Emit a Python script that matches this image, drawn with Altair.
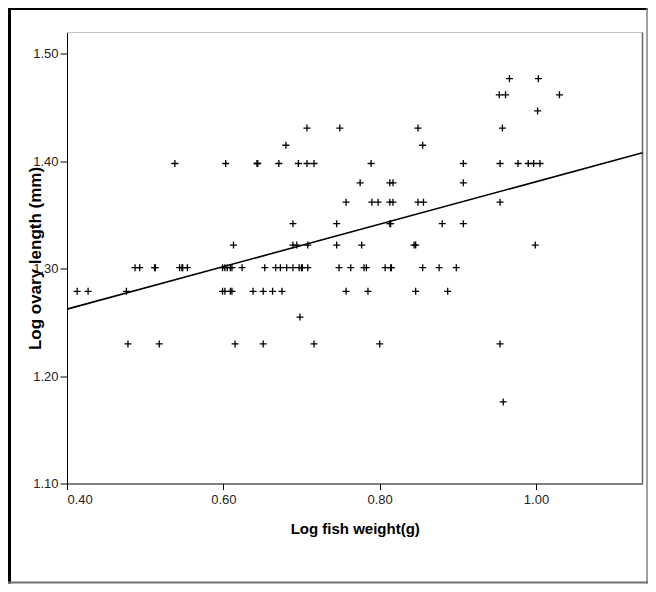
import altair as alt
import pandas as pd

# Log fish weight (g) and Log ovary length (mm)
fish_weight = [
    0.966, 1.003,
    0.953, 0.961, 1.030,
    1.002,
    0.707, 0.749, 0.849, 0.957,
    0.680, 0.855,
    0.538, 0.603, 0.643, 0.644, 0.671, 0.696, 0.707, 0.716, 0.789, 0.907, 0.954, 0.977, 0.990, 0.997, 1.005,
    0.775, 0.813, 0.817, 0.907,
    0.757, 0.790, 0.798, 0.813, 0.817, 0.849, 0.856, 0.954,
    0.689, 0.745, 0.813, 0.814, 0.880, 0.907,
    0.613, 0.689, 0.694, 0.708, 0.745, 0.777, 0.844, 0.846, 0.999,
    0.487, 0.493, 0.512, 0.513, 0.544, 0.547, 0.548, 0.554, 0.599, 0.602, 0.605, 0.609, 0.611, 0.624,
    0.653, 0.667, 0.673, 0.681, 0.689, 0.697, 0.700, 0.701, 0.708, 0.748, 0.763, 0.780, 0.783, 0.807,
    0.814, 0.815, 0.855, 0.876, 0.898,
    0.413, 0.427, 0.476, 0.599, 0.602, 0.609, 0.611, 0.638, 0.651, 0.663, 0.675, 0.757, 0.785, 0.846, 0.887,
    0.698,
    0.478, 0.518, 0.615, 0.651, 0.716, 0.800, 0.954,
    0.958,
]
ovary_length = (
    [1.477] * 2 + [1.462] * 3 + [1.447] * 1 + [1.431] * 4 + [1.415] * 2
    + [1.398] * 15 + [1.380] * 4 + [1.362] * 8 + [1.342] * 6 + [1.322] * 9
    + [1.301] * 33 + [1.279] * 15 + [1.255] * 1 + [1.230] * 7 + [1.176] * 1
)

# fitted line end points
fit_x = [0.40, 1.1362]
fit_y = [1.2624, 1.408]

x_ticks = [0.40, 0.60, 0.80, 1.00]
y_ticks = [1.10, 1.20, 1.30, 1.40, 1.50]

W, H = 575.5, 451
LABEL_FONT = "Liberation Sans Narrow, Arial Narrow, Liberation Sans, Arial"
TITLE_FONT = "Liberation Sans, Arial"

pts = pd.DataFrame({"w": fish_weight, "l": ovary_length})
fit = pd.DataFrame({"w": fit_x, "l": fit_y})
one = pd.DataFrame({"a": [0]})

xscale = alt.Scale(domain=[0.40, 1.1362], nice=False, zero=False)
yscale = alt.Scale(domain=[1.10, 1.52], nice=False, zero=False)

xaxis = alt.Axis(
    values=x_ticks, format=".2f", title="Log fish weight(g)", grid=False,
    domainColor="black", tickColor="black", tickSize=6, labelPadding=4,
    labelFont=LABEL_FONT, labelFontSize=13, labelColor="#222222",
    titleFont=TITLE_FONT, titleFontSize=15, titleFontWeight="bold", titleColor="black",
    titleX=W / 2, titleY=49.5, titleBaseline="alphabetic",
)
yaxis = alt.Axis(
    values=y_ticks, format=".2f", title="Log ovary length (mm)", grid=False,
    domainColor="black", tickColor="black", tickSize=7, labelPadding=2,
    labelFont=LABEL_FONT, labelFontSize=13, labelColor="#222222",
    titleFont=TITLE_FONT, titleFontSize=17, titleFontWeight="bold", titleColor="black",
    titleX=-32, titleY=H / 2, titleBaseline="middle", titleAnchor="middle",
)

points = alt.Chart(pts).mark_point(
    shape="M-1,0H1M0,-1V1", size=49, filled=False, stroke="black", strokeWidth=1.3, opacity=1
).encode(
    x=alt.X("w:Q", scale=xscale, axis=xaxis),
    y=alt.Y("l:Q", scale=yscale, axis=yaxis),
)

line = alt.Chart(fit).mark_line(color="black", strokeWidth=1.6).encode(
    x=alt.X("w:Q", scale=xscale),
    y=alt.Y("l:Q", scale=yscale),
)

# plot box top and right edges
top_edge = alt.Chart(one).mark_rule(color="#c4c4c4", strokeWidth=1.2).encode(
    x=alt.value(0), x2=alt.value(W), y=alt.value(0)
)
right_edge = alt.Chart(one).mark_rule(color="#6a6a6a", strokeWidth=1.6).encode(
    x=alt.value(W), y=alt.value(0), y2=alt.value(H)
)

# outer frame
frame_left = alt.Chart(one).mark_rule(color="black", strokeWidth=3).encode(
    x=alt.value(-57.5), y=alt.value(-24.5), y2=alt.value(551)
)
frame_top = alt.Chart(one).mark_rule(color="black", strokeWidth=2).encode(
    x=alt.value(-59), x2=alt.value(581), y=alt.value(-23.5)
)
frame_right = alt.Chart(one).mark_rule(color="#808080", strokeWidth=1.5).encode(
    x=alt.value(580), y=alt.value(-24.5), y2=alt.value(551)
)
frame_bottom = alt.Chart(one).mark_rule(color="#707070", strokeWidth=2).encode(
    x=alt.value(-59), x2=alt.value(581), y=alt.value(550)
)

chart = alt.layer(
    top_edge, right_edge, line, points,
    frame_left, frame_top, frame_right, frame_bottom,
).properties(
    width=W, height=H,
    autosize=alt.AutoSizeParams(type="none"),
    padding={"left": 59, "top": 24.5, "right": 5.5, "bottom": 100.5},
    background="white",
).configure_view(stroke=None)

chart.save("out.html", embed_options={"renderer": "svg", "actions": False})
